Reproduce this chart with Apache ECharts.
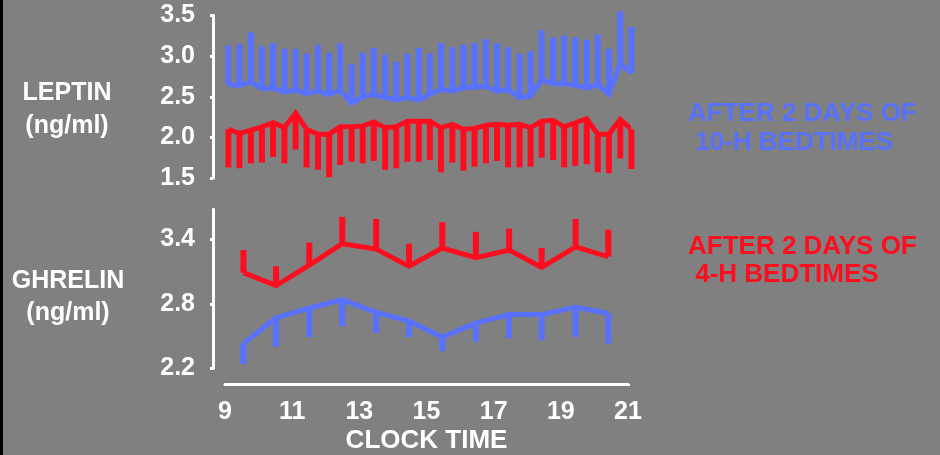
<!DOCTYPE html>
<html>
<head>
<meta charset="utf-8">
<script src="https://cdn.jsdelivr.net/npm/echarts@6/dist/echarts.min.js"></script>
<style>
  html, body { margin: 0; padding: 0; background: #808080; }
  #chart { width: 940px; height: 455px; }
</style>
</head>
<body>
<div id="chart"></div>
<script>
// Leptin: samples every 20 minutes (clock hours)
const leptinTimes = [9.10, 9.43, 9.77, 10.10, 10.43, 10.77, 11.10, 11.43, 11.77, 12.10, 12.43, 12.77,
  13.10, 13.43, 13.77, 14.10, 14.43, 14.77, 15.10, 15.43, 15.77, 16.10, 16.43, 16.77,
  17.10, 17.43, 17.77, 18.10, 18.43, 18.77, 19.10, 19.43, 19.77, 20.10, 20.43, 20.77, 21.10];

// 10-h bedtimes: mean and top of error bar (ng/ml)
const leptin10hMean = [2.65, 2.64, 2.68, 2.60, 2.61, 2.56, 2.58, 2.54, 2.57, 2.53, 2.58, 2.42,
  2.50, 2.53, 2.49, 2.46, 2.49, 2.46, 2.53, 2.59, 2.57, 2.61, 2.62, 2.63,
  2.57, 2.59, 2.49, 2.51, 2.71, 2.66, 2.66, 2.64, 2.61, 2.65, 2.53, 2.91, 2.79];
const leptin10hErrTop = [3.13, 3.15, 3.29, 3.12, 3.16, 3.09, 3.09, 3.03, 3.14, 3.04, 3.16, 2.90,
  3.04, 3.10, 3.02, 2.93, 3.03, 3.10, 3.03, 3.16, 3.11, 3.14, 3.16, 3.21,
  3.16, 3.11, 3.03, 3.06, 3.32, 3.23, 3.25, 3.23, 3.20, 3.27, 3.09, 3.55, 3.36];

// 4-h bedtimes: mean and bottom of error bar (ng/ml)
const leptin4hMean = [2.10, 2.05, 2.09, 2.13, 2.18, 2.12, 2.30, 2.10, 2.04, 2.04, 2.13, 2.13,
  2.14, 2.19, 2.12, 2.13, 2.20, 2.20, 2.20, 2.12, 2.16, 2.10, 2.11, 2.15,
  2.16, 2.15, 2.16, 2.12, 2.20, 2.21, 2.13, 2.18, 2.23, 2.04, 2.04, 2.22, 2.10];
const leptin4hErrBottom = [1.63, 1.62, 1.68, 1.69, 1.76, 1.68, 1.85, 1.63, 1.60, 1.51, 1.66, 1.70,
  1.68, 1.71, 1.60, 1.62, 1.70, 1.70, 1.72, 1.57, 1.69, 1.59, 1.64, 1.68,
  1.71, 1.63, 1.63, 1.64, 1.75, 1.72, 1.63, 1.65, 1.67, 1.57, 1.56, 1.74, 1.61];

// Ghrelin: hourly samples
const ghrelinTimes = [9.55, 10.52, 11.51, 12.49, 13.50, 14.48, 15.47, 16.47, 17.46, 18.43, 19.44, 20.41];
const ghrelin4hMean = [3.09, 2.97, 3.16, 3.36, 3.31, 3.15, 3.32, 3.23, 3.30, 3.14, 3.33, 3.24];
const ghrelin4hErrTop = [3.30, 3.15, 3.37, 3.61, 3.59, 3.36, 3.56, 3.47, 3.50, 3.32, 3.59, 3.49];
const ghrelin10hMean = [2.43, 2.67, 2.76, 2.84, 2.72, 2.64, 2.49, 2.62, 2.70, 2.70, 2.77, 2.71];
const ghrelin10hErrBottom = [2.24, 2.40, 2.49, 2.59, 2.53, 2.49, 2.36, 2.45, 2.48, 2.46, 2.49, 2.43];

// Axis ticks
const hourTicks = [9, 11, 13, 15, 17, 19, 21];
const leptinTicks = [1.5, 2.0, 2.5, 3.0, 3.5];
const ghrelinTicks = [2.2, 2.8, 3.4];

const BLUE = '#5872ff';
const RED = '#ff0d1f';
const WHITE = '#ffffff';
const FONT = '"Liberation Sans", Arial, sans-serif';

const zip2 = (xs, ys) => xs.map((x, i) => [x, ys[i]]);
const zip3 = (xs, a, b) => xs.map((x, i) => [x, a[i], b[i]]);

// Error bar drawn from the mean to the bar end
function errorBar(params, api) {
  const p0 = api.coord([api.value(0), api.value(1)]);
  const p1 = api.coord([api.value(0), api.value(2)]);
  return {
    type: 'line',
    shape: { x1: p0[0], y1: p0[1], x2: p1[0], y2: p1[1] },
    style: { stroke: api.visual('color'), lineWidth: 6 }
  };
}

function yAxisFor(gridIndex, min, max, ticks) {
  return {
    type: 'value', gridIndex, min, max, offset: 12,
    splitLine: { show: false },
    axisLine: { show: true, lineStyle: { color: WHITE, width: 3 } },
    axisTick: { show: true, length: 3, customValues: ticks, lineStyle: { color: WHITE, width: 3 } },
    axisLabel: {
      customValues: ticks, margin: 18, color: WHITE, fontFamily: FONT,
      fontWeight: 'bold', fontSize: 25, padding: [3, 0, 0, 0], formatter: v => v.toFixed(1)
    }
  };
}

function hiddenX(gridIndex) {
  return { type: 'value', gridIndex, min: 9, max: 21, show: false };
}

function lineSeries(idx, times, values, color) {
  return {
    type: 'line', xAxisIndex: idx, yAxisIndex: idx, data: zip2(times, values),
    symbol: 'none', clip: false, z: 3,
    lineStyle: { color, width: 5, join: 'miter' }, itemStyle: { color }
  };
}

function barSeries(idx, times, mean, end, color) {
  return {
    type: 'custom', xAxisIndex: idx, yAxisIndex: idx, data: zip3(times, mean, end),
    renderItem: errorBar, clip: false, z: 2, itemStyle: { color },
    encode: { x: 0, y: [1, 2] }
  };
}

const chart = echarts.init(document.getElementById('chart'), null, { renderer: 'canvas' });
chart.setOption({
  animation: false,
  backgroundColor: '#808080',
  grid: [
    { left: 225, width: 403, top: 15.5, height: 162.5 },
    { left: 225, width: 403, top: 209.3, height: 159 },
    { left: 225, width: 403, top: 300, height: 87 }
  ],
  xAxis: [
    hiddenX(0),
    hiddenX(1),
    {
      type: 'value', gridIndex: 2, min: 9, max: 21,
      name: 'CLOCK TIME', nameLocation: 'middle', nameGap: 44,
      nameTextStyle: { color: WHITE, fontFamily: FONT, fontWeight: 'bold', fontSize: 26 },
      splitLine: { show: false },
      axisLine: { show: true, lineStyle: { color: WHITE, width: 3 } },
      axisTick: { show: true, length: 2, customValues: hourTicks, lineStyle: { color: WHITE, width: 3 } },
      axisLabel: {
        customValues: hourTicks, margin: 16, color: WHITE,
        fontFamily: FONT, fontWeight: 'bold', fontSize: 25
      }
    }
  ],
  yAxis: [
    yAxisFor(0, 1.5, 3.5, leptinTicks),
    yAxisFor(1, 2.2, 3.68, ghrelinTicks),
    { type: 'value', gridIndex: 2, show: false }
  ],
  series: [
    barSeries(0, leptinTimes, leptin10hMean, leptin10hErrTop, BLUE),
    lineSeries(0, leptinTimes, leptin10hMean, BLUE),
    barSeries(0, leptinTimes, leptin4hMean, leptin4hErrBottom, RED),
    lineSeries(0, leptinTimes, leptin4hMean, RED),
    barSeries(1, ghrelinTimes, ghrelin4hMean, ghrelin4hErrTop, RED),
    lineSeries(1, ghrelinTimes, ghrelin4hMean, RED),
    barSeries(1, ghrelinTimes, ghrelin10hMean, ghrelin10hErrBottom, BLUE),
    lineSeries(1, ghrelinTimes, ghrelin10hMean, BLUE)
  ],
  graphic: [
    { type: 'rect', left: 0, top: 0, shape: { width: 3, height: 455 }, style: { fill: '#000' } },
    {
      type: 'text', x: 67, y: 110,
      style: {
        text: 'LEPTIN\n(ng/ml)', fill: WHITE, font: 'bold 25px ' + FONT,
        align: 'center', verticalAlign: 'middle', lineHeight: 33
      }
    },
    {
      type: 'text', x: 68, y: 297,
      style: {
        text: 'GHRELIN\n(ng/ml)', fill: WHITE, font: 'bold 25px ' + FONT,
        align: 'center', verticalAlign: 'middle', lineHeight: 32
      }
    },
    {
      type: 'text', x: 688, y: 128,
      style: {
        text: 'AFTER 2 DAYS OF\n 10-H BEDTIMES', fill: BLUE, font: 'bold 26px ' + FONT,
        align: 'left', verticalAlign: 'middle', lineHeight: 29
      }
    },
    {
      type: 'text', x: 688, y: 261,
      style: {
        text: 'AFTER 2 DAYS OF\n 4-H BEDTIMES', fill: RED, font: 'bold 26px ' + FONT,
        align: 'left', verticalAlign: 'middle', lineHeight: 28
      }
    }
  ]
});
</script>
</body>
</html>
